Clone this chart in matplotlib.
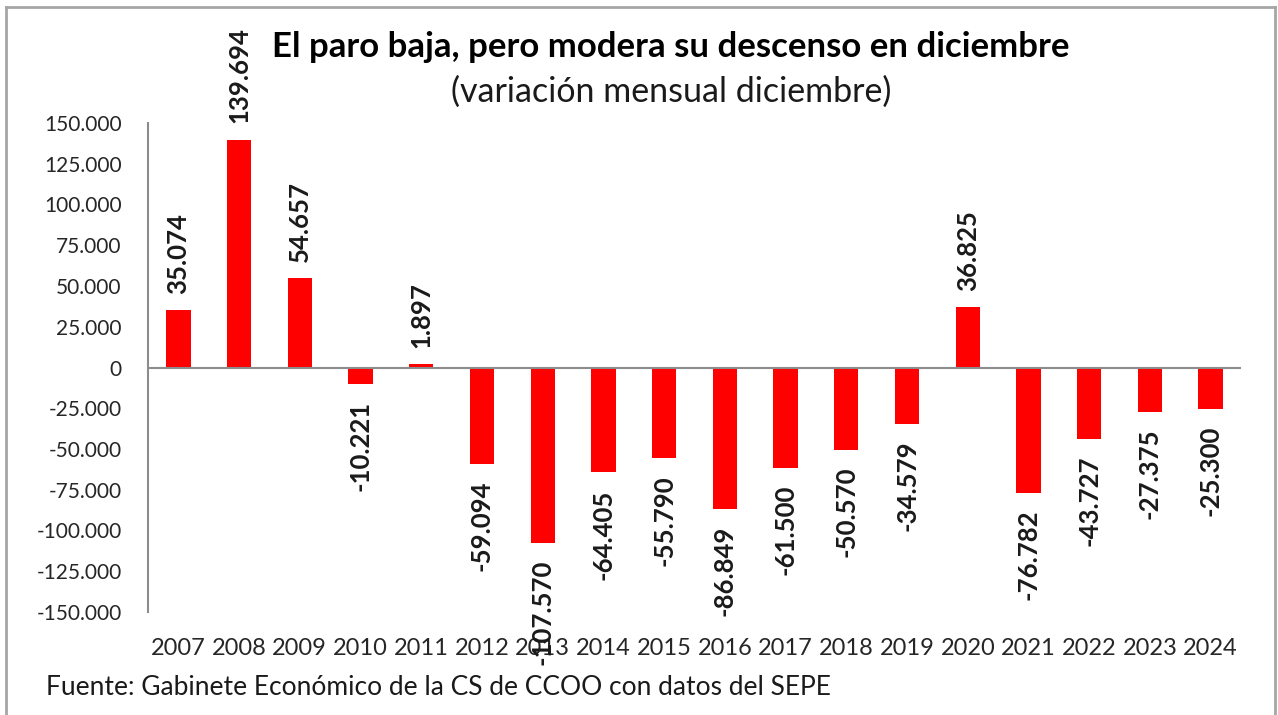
import matplotlib
matplotlib.use("Agg")
import matplotlib.pyplot as plt
from matplotlib.lines import Line2D
from matplotlib.ticker import FuncFormatter

years = ["2007", "2008", "2009", "2010", "2011", "2012", "2013", "2014", "2015",
         "2016", "2017", "2018", "2019", "2020", "2021", "2022", "2023", "2024"]
values = [35074, 139694, 54657, -10221, 1897, -59094, -107570, -64405, -55790,
          -86849, -61500, -50570, -34579, 36825, -76782, -43727, -27375, -25300]
y_ticks = [-150000, -125000, -100000, -75000, -50000, -25000, 0,
           25000, 50000, 75000, 100000, 125000, 150000]

title = "El paro baja, pero modera su descenso en diciembre"
subtitle = "(variación mensual diciembre)"
source = "Fuente: Gabinete Económico de la CS de CCOO con datos del SEPE"

plt.rcParams['font.family'] = ['Lato', 'DejaVu Sans']


def fmt(v):
    s = f"{abs(int(v)):,}".replace(",", ".")
    return ("-" if v < 0 else "") + s


fig = plt.figure(figsize=(12.78, 7.15), dpi=100)
ax = fig.add_axes([148 / 1278, 1 - 612 / 715, (1241 - 148) / 1278, (612 - 123) / 715])

x = list(range(len(years)))
ax.bar(x, values, width=0.4, color="#ff0000", zorder=2)

ax.set_xlim(-0.5, len(years) - 0.5)
ax.set_ylim(-150000, 150000)
ax.set_yticks(y_ticks)
ax.yaxis.set_major_formatter(FuncFormatter(lambda v, p: fmt(v)))
ax.set_xticks(x)
ax.set_xticklabels(years)
ax.tick_params(axis="y", length=0, pad=19, labelsize=15, colors="#262626")
ax.tick_params(axis="x", length=0, pad=19, labelsize=17, colors="#262626")

for s in ["top", "right", "bottom"]:
    ax.spines[s].set_visible(False)
ax.spines["left"].set_color("#8c8c8c")
ax.spines["left"].set_linewidth(1.5)
ax.axhline(0, color="#8c8c8c", linewidth=1.5, zorder=3)

for xi, v in zip(x, values):
    if v >= 0:
        ax.annotate(fmt(v), (xi, v), xytext=(0, 12), textcoords="offset points",
                    rotation=90, ha="center", va="bottom", fontsize=18.5,
                    fontweight="bold", color="#1a1a1a", zorder=4)
    else:
        ax.annotate(fmt(v), (xi, v), xytext=(0, -12), textcoords="offset points",
                    rotation=90, ha="center", va="top", fontsize=18.5,
                    fontweight="bold", color="#1a1a1a", zorder=4)

fig.text(0.525, 0.934, title, ha="center", va="center", fontsize=25,
         fontweight="bold", color="#000000")
fig.text(0.525, 0.871, subtitle, ha="center", va="center", fontsize=24.5,
         color="#1a1a1a")
fig.text(46 / 1278, 0.038, source, ha="left", va="center", fontsize=19,
         color="#1a1a1a")

# outer frame
fc = "#a6a6a6"
fig.add_artist(Line2D([6 / 1278, 6 / 1278], [0, 1 - 7 / 715], transform=fig.transFigure, color=fc, lw=2))
fig.add_artist(Line2D([1275 / 1278, 1275 / 1278], [0, 1 - 7 / 715], transform=fig.transFigure, color=fc, lw=2))
fig.add_artist(Line2D([6 / 1278, 1275 / 1278], [1 - 7 / 715, 1 - 7 / 715], transform=fig.transFigure, color=fc, lw=2))

fig.savefig("out.png", dpi=100)
